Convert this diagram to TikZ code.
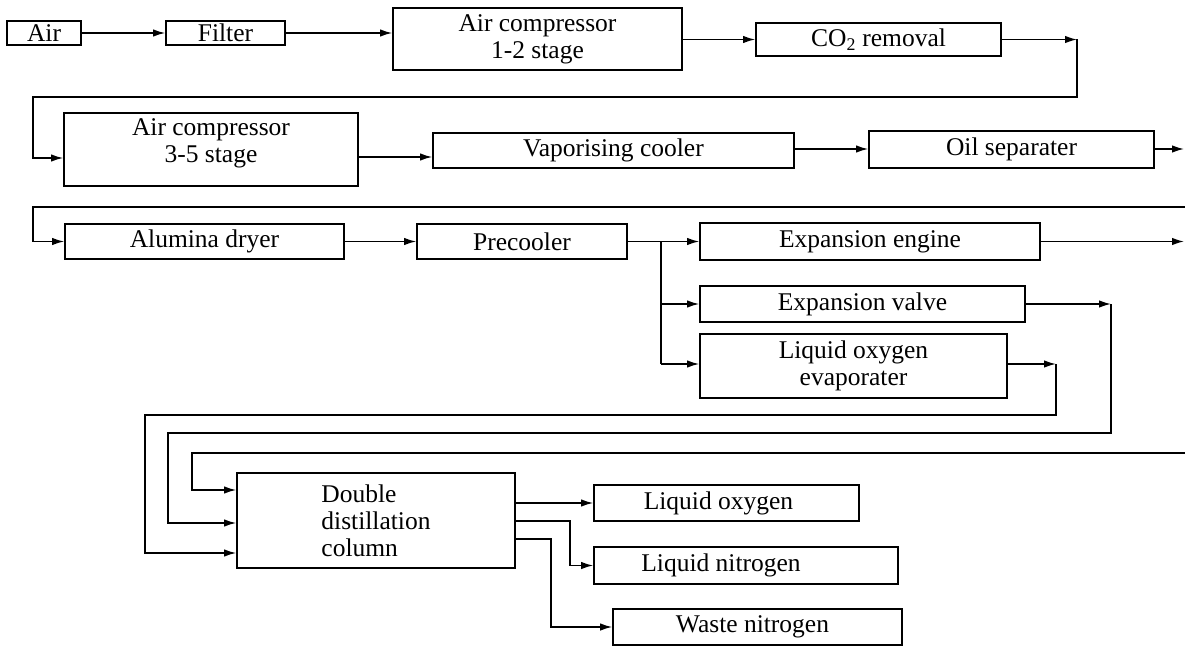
\documentclass[tikz,border=0pt]{standalone}
\usepackage{fontspec}
\setmainfont{Liberation Serif}
\usetikzlibrary{arrows.meta}
\tikzset{
  unitbox/.style={draw, line width=1.8pt, inner sep=0pt, align=center,
    font=\fontsize{25.5}{27}\selectfont},
  flow/.style={line width=1.4pt, -{Latex[length=12pt,width=7.5pt]}},
  pipe/.style={line width=1.4pt},
}
% box from its corners: name, x1, y1, x2, y2, text
\newcommand\placebox[6]{%
  \node[unitbox, minimum width={#4pt-#2pt}, minimum height={#5pt-#3pt}]
    (#1) at ({(#2+#4)/2},{(#3+#5)/2}) {#6};}
\begin{document}
\begin{tikzpicture}[x=1pt,y=-1pt]
\useasboundingbox (0,0) rectangle (1185,647);

% ---- first line of the process
\placebox{air}{7}{21}{81}{45}{Air}
\placebox{filter}{166}{21}{285}{45}{Filter}
\placebox{comp12}{393}{8}{682}{70}{Air compressor\\1-2 stage}
\placebox{co2}{756}{23}{1001}{56}{CO\textsubscript{2} removal}

% ---- second line
\placebox{comp35}{64}{113}{358}{186}{Air compressor\\3-5 stage\\[-10pt]\mbox{}}
\placebox{vapor}{433}{133}{794}{168}{Vaporising cooler}
\placebox{oil}{869}{131}{1154}{168}{Oil separater}

% ---- third line
\placebox{alumina}{65}{224}{344}{259}{Alumina dryer}
\placebox{precool}{417}{224}{627}{259}{Precooler}
\placebox{expeng}{700}{223}{1040}{260}{Expansion engine}
\placebox{expval}{700}{286}{1025}{322}{Expansion valve}
\placebox{lox}{700}{334}{1007}{398}{Liquid oxygen\\evaporater}

% ---- column and products
\node[unitbox, align=left, minimum width=278pt, minimum height=95pt]
  (double) at (376,520.5) {Double\\distillation\\column};
\placebox{lo}{594}{485}{859}{521}{Liquid oxygen\hspace*{16pt}}
\placebox{ln}{594}{547}{898}{584}{Liquid nitrogen\hspace*{50pt}}
\placebox{wn}{613}{609}{902}{645}{Waste nitrogen\hspace*{10pt}}

% ---- connectors, first line
\draw[flow] (air) -- (filter);
\draw[flow] (filter.east) -- (filter.east -| comp12.west);
\draw[flow] (comp12.east |- co2.west) -- (co2.west);
\coordinate (r1) at (1077,39.5);
\draw[flow] (co2.east) -- (r1);
\draw[flow] (r1) -- (1077,97) -- (33,97) -- (33,158) -- (comp35.west |- 0,158);

% ---- connectors, second line
\draw[flow] (comp35.east |- 0,157) -- (vapor.west |- 0,157);
\draw[flow] (vapor.east |- 0,149) -- (oil.west |- 0,149);
\coordinate (e1) at (1184,149);
\draw[flow] (oil.east |- e1) -- (e1);
\coordinate (e2) at (1185,207);
\draw[flow] (e2) -- (33,207) |- (alumina.west);

% ---- connectors, third line
\draw[flow] (alumina) -- (precool);
\coordinate (j) at (661,241.5);
\draw[flow] (precool.east) -- (j) -- (expeng.west);
\draw[pipe] (j) -- (661,364);
\draw[flow] (661,304) -- (expval.west);
\draw[flow] (661,364) -- (lox.west |- 0,364);
\coordinate (e3) at (1184,241.5);
\draw[flow] (expeng.east) -- (e3);

% ---- return lines to the column
\coordinate (v1) at (1111,304);
\draw[flow] (expval.east) -- (v1);
\draw[flow] (v1) -- (1111,433) -- (168,433) |- (double.west |- 0,523);
\coordinate (x1) at (1056,364);
\draw[flow] (lox.east |- x1) -- (x1);
\draw[flow] (x1) -- (1056,415) -- (145,415) |- (double.west |- 0,553);
\coordinate (e4) at (1185,453);
\draw[flow] (e4) -- (192,453) |- (double.west |- 0,490);

% ---- products
\draw[flow] (double.east |- lo) -- (lo.west);
\draw[flow] (double.east |- 0,521) -- (570,521) |- (ln.west);
\draw[flow] (double.east |- 0,539) -- (551,539) |- (wn.west);
\end{tikzpicture}
\end{document}
